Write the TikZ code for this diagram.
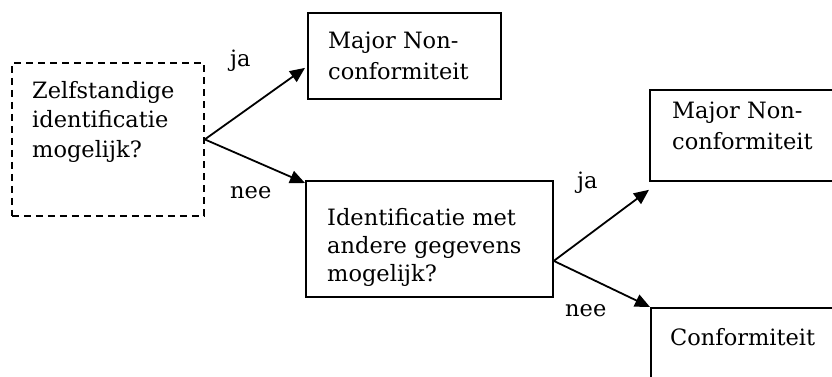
\documentclass[tikz,border=0pt]{standalone}
\usepackage{fontspec}
\setmainfont{DejaVu Serif}
\usetikzlibrary{arrows.meta}
\begin{document}
\begin{tikzpicture}[x=1pt,y=-1pt,
  box/.style={draw, line width=1.8pt, inner sep=0pt, anchor=north west},
  dbox/.style={box, dash pattern=on 7pt off 5pt},
  txt/.style={inner sep=0pt, anchor=north west, align=left, font=\fontsize{22.5}{29.5}\selectfont},
  lbl/.style={inner sep=0pt, anchor=base west, font=\fontsize{22.5}{27}\selectfont},
  arr/.style={line width=1.8pt, -{Triangle[length=15pt,width=13pt]}}]
\useasboundingbox (0,0) rectangle (832,376);
\clip (0,0) rectangle (832,376);
% boxes
\node[dbox, minimum width=192pt, minimum height=153pt] (q1) at (11,62) {};
\node[box, minimum width=193pt, minimum height=86pt] (a) at (307,12) {};
\node[box, minimum width=247pt, minimum height=116pt] (q2) at (305,180) {};
\node[box, minimum width=200pt, minimum height=91pt] (c) at (649,89) {};
\node[box, minimum width=200pt, minimum height=100pt] (d) at (650,307) {};
% texts
\node[txt] (t1) at (32,80) {\rule{0pt}{18pt}Zelfstandige\\identificatie\\mogelijk?};
\node[txt, font=\fontsize{22.5}{31}\selectfont] (ta) at (328,30) {\rule{0pt}{18pt}Major Non-\\conformiteit};
\node[txt, font=\fontsize{22.5}{28}\selectfont] (tb) at (327,207) {\rule{0pt}{18pt}Identificatie met\\andere gegevens\\mogelijk?};
\node[txt, font=\fontsize{22.5}{31}\selectfont] (tc) at (672,100) {\rule{0pt}{18pt}Major Non-\\conformiteit};
\node[txt] (td) at (670,327) {\rule{0pt}{18pt}Conformiteit};
% labels
\node[lbl] (l1) at (230,66) {ja};
\node[lbl] (l2) at (230,198) {nee};
\node[lbl] (l3) at (577,188) {ja};
\node[lbl] (l4) at (565,316) {nee};
% arrows
\draw[arr] (q1.east) -- ([xshift=-2pt,yshift=-12pt]a.west);
\draw[arr] (q1.east) -- ([yshift=-3pt]q2.north west);
\draw[arr] ([yshift=-22pt]q2.east) -- ([yshift=-8pt]c.south west);
\draw[arr] ([yshift=-22pt]q2.east) -- (d.north west);
\end{tikzpicture}
\end{document}
